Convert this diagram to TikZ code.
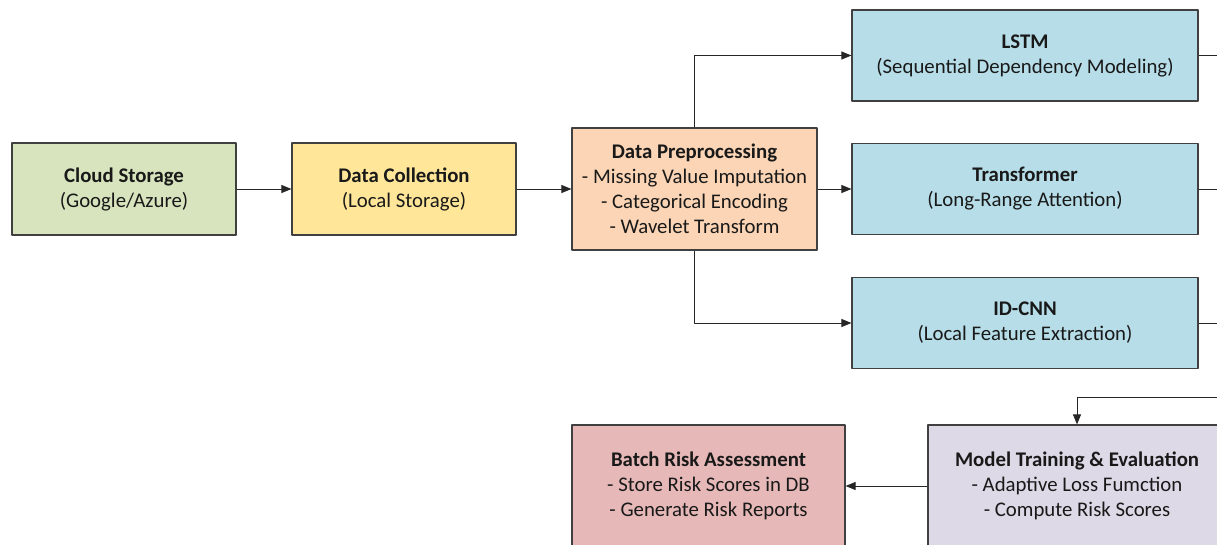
\documentclass[tikz,border=0pt]{standalone}
\usepackage{fontspec}
\setmainfont{Carlito}
\usepackage{xcolor}
\usetikzlibrary{arrows.meta,positioning}

\definecolor{cloudgreen}{HTML}{D7E4BD}
\definecolor{collyellow}{HTML}{FFE699}
\definecolor{prepeach}{HTML}{FBD5B5}
\definecolor{modelblue}{HTML}{B7DEE8}
\definecolor{riskred}{HTML}{E6B9B8}
\definecolor{trainlilac}{HTML}{DDD9E6}

\begin{document}
\begin{tikzpicture}[x=1pt,y=-1pt,>={Triangle[length=10pt,width=8pt]},line join=round,
  box/.style={draw=black!75,line width=1.2pt,align=center,inner sep=0pt,
    font=\fontsize{20.8}{25}\selectfont,text=black!90},
  link/.style={->,draw=black!85,line width=0.9pt}]
  \clip (0,0) rectangle (1217,544);
  \useasboundingbox (0,0) rectangle (1217,544);
  % storage and collection
  \node[box,fill=cloudgreen,minimum width=224pt,minimum height=92pt] (cloud) at (124,189)
    {\textbf{Cloud Storage}\\(Google/Azure)};
  \node[box,fill=collyellow,minimum width=224pt,minimum height=92pt] (collect) at (404,189)
    {\textbf{Data Collection}\\(Local Storage)};
  \node[box,fill=prepeach,minimum width=245pt,minimum height=122pt] (prep) at (694.5,189)
    {\textbf{Data Preprocessing}\\- Missing Value Imputation\\- Categorical Encoding\\- Wavelet Transform};
  % models
  \node[box,fill=modelblue,minimum width=346pt,minimum height=91pt] (lstm) at (1025,55.5)
    {\textbf{LSTM}\\(Sequential Dependency Modeling)};
  \node[box,fill=modelblue,minimum width=346pt,minimum height=91pt] (trans) at (1025,189)
    {\textbf{Transformer}\\(Long-Range Attention)};
  \node[box,fill=modelblue,minimum width=346pt,minimum height=91pt] (cnn) at (1025,323)
    {\textbf{ID-CNN}\\(Local Feature Extraction)};
  % training and risk
  \node[box,fill=trainlilac,minimum width=298pt,minimum height=122pt] (train) at (1077,486)
    {\textbf{Model Training \& Evaluation}\\- Adaptive Loss Fumction\\- Compute Risk Scores};
  \node[box,fill=riskred,minimum width=273pt,minimum height=122pt] (risk) at (708.5,486)
    {\textbf{Batch Risk Assessment}\\- Store Risk Scores in DB\\- Generate Risk Reports};
  \coordinate (lstmout) at (1230,55.5);
  \coordinate (transout) at (1230,189);
  \coordinate (cnnout) at (1230,323);
  \coordinate (mergein) at (1230,397);
  \draw[link] (cloud) -- (collect);
  \draw[link] (collect) -- (prep);
  \draw[link] (prep.north) |- (lstm.west);
  \draw[link] (prep) -- (trans);
  \draw[link] (prep.south) |- (cnn.west);
  \draw[link,-] (lstm.east) -- (lstmout);
  \draw[link,-] (trans.east) -- (transout);
  \draw[link,-] (cnn.east) -- (cnnout);
  \draw[link] (mergein) -| (train.north);
  \draw[link] (train.west) -- (risk.east);
\end{tikzpicture}
\end{document}
